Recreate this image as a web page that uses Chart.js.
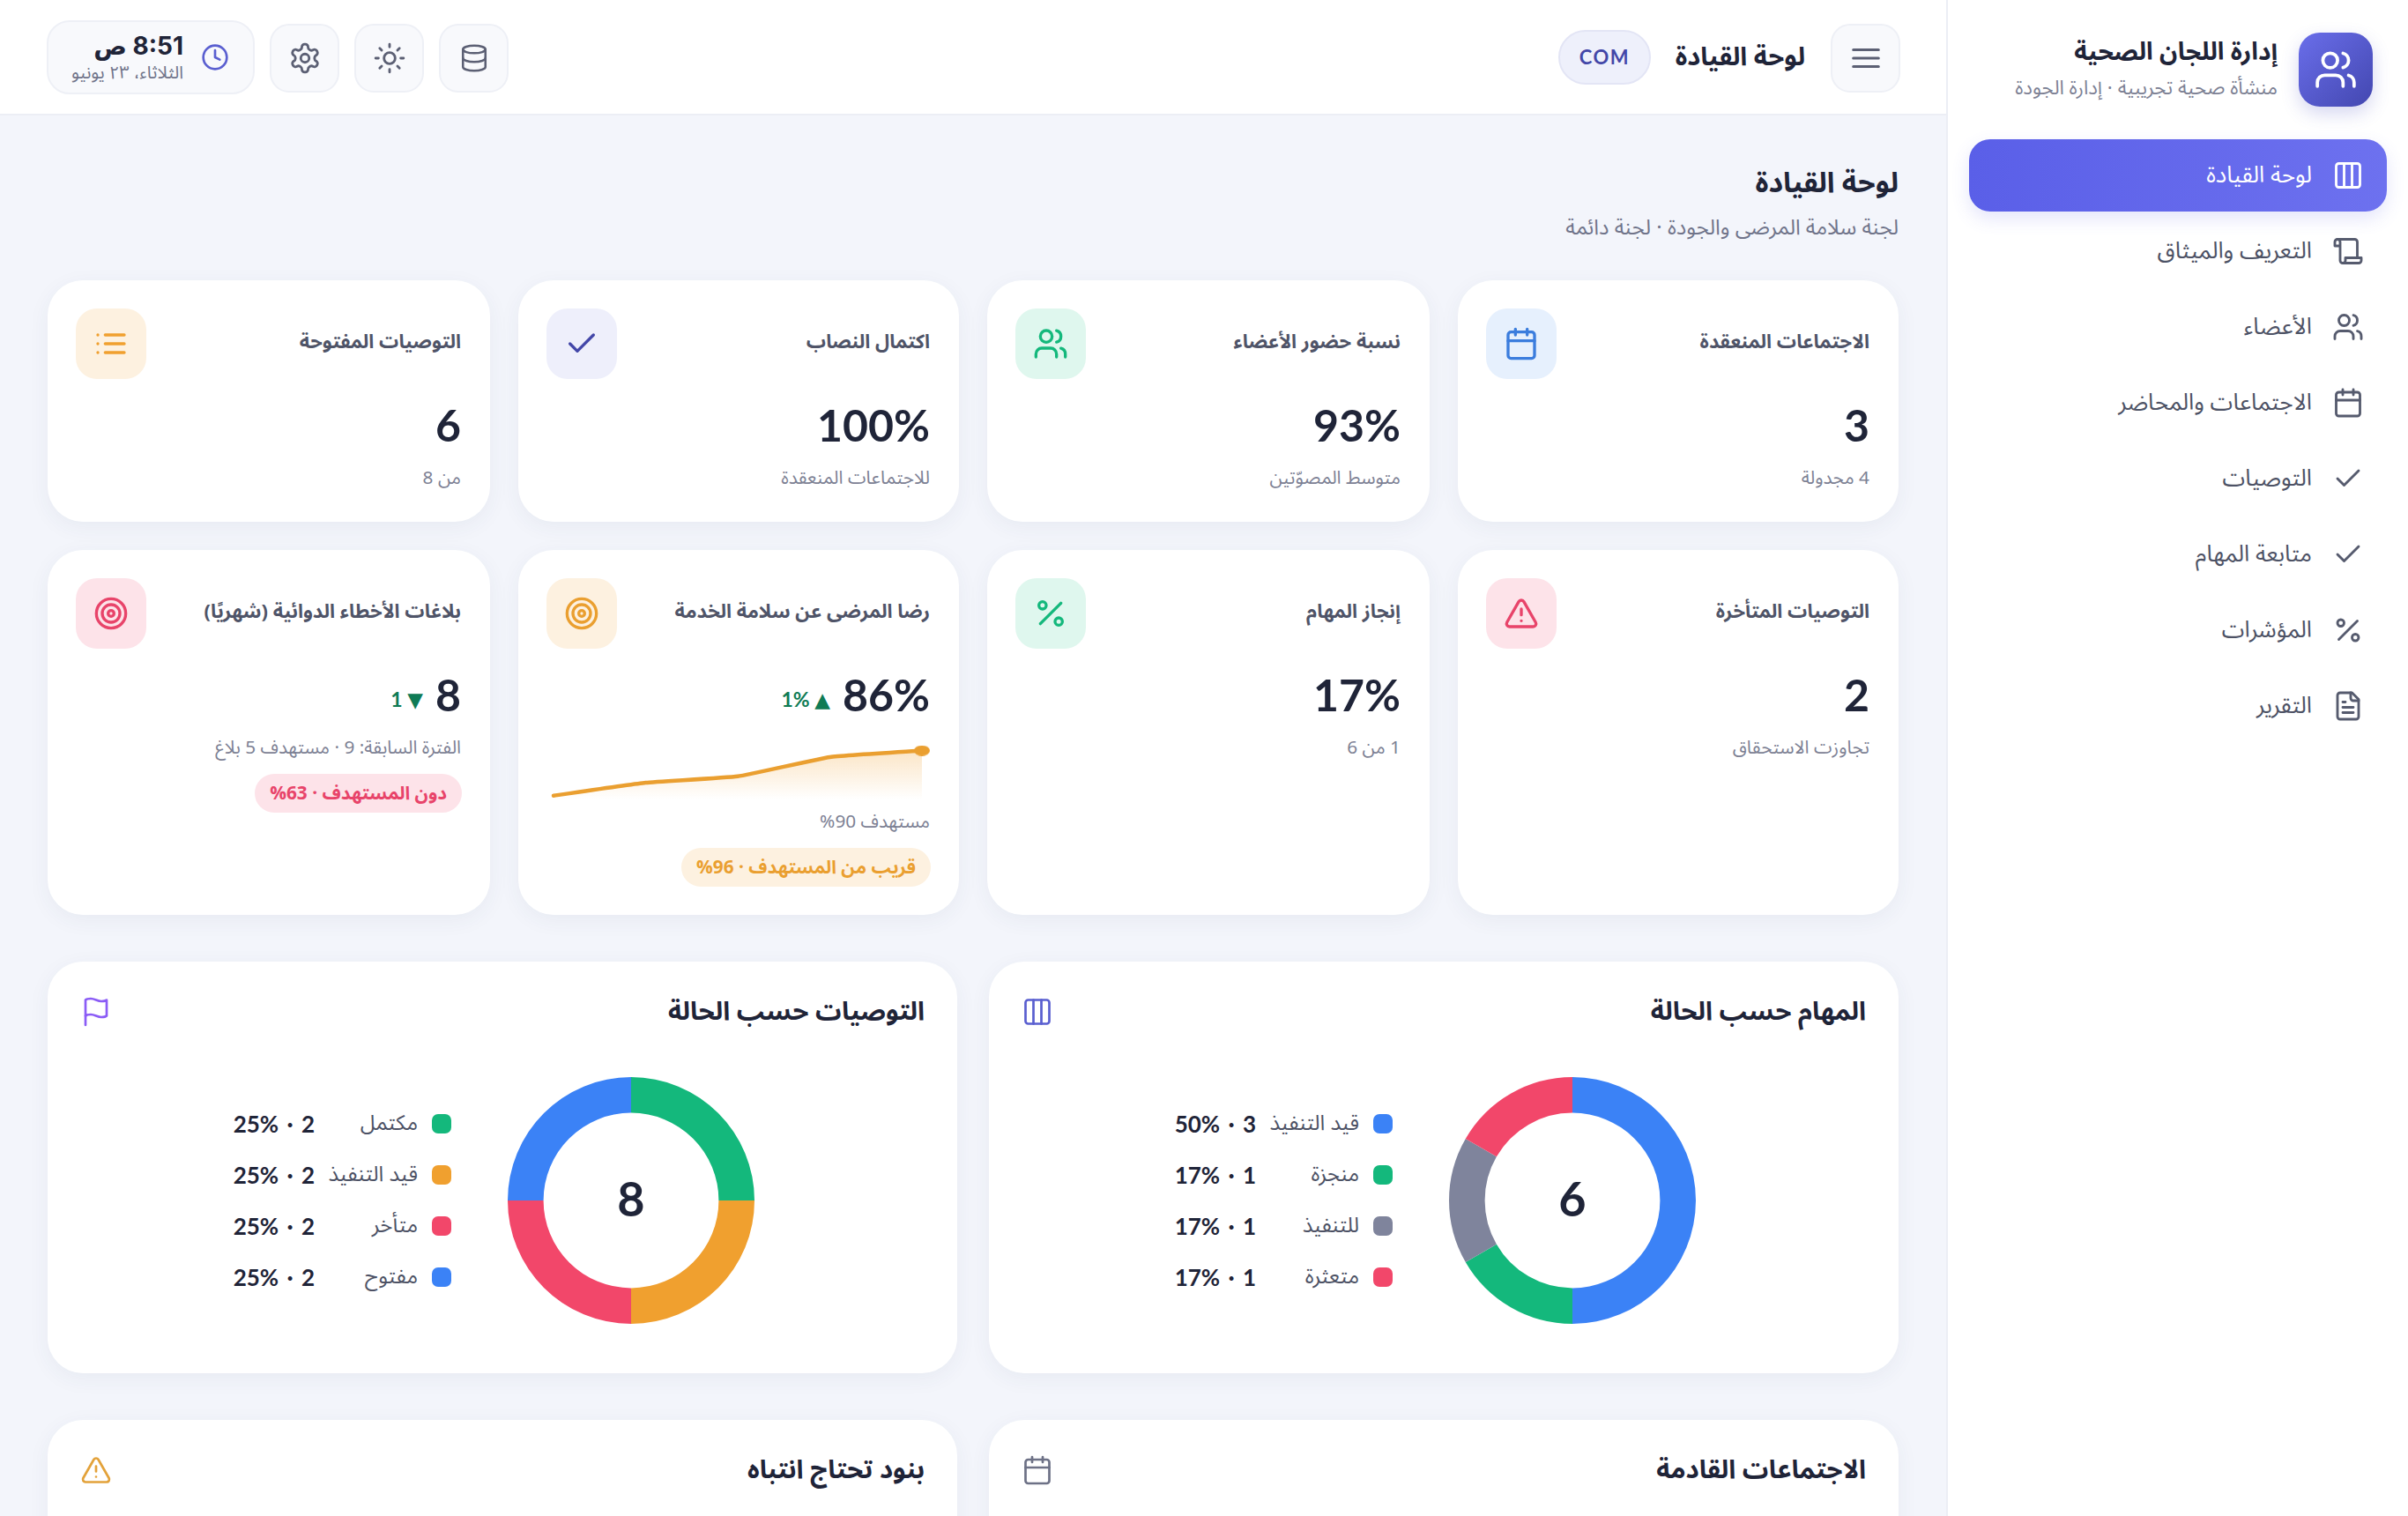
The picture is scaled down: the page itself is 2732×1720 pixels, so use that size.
<!DOCTYPE html>
<html lang="ar" dir="rtl">
<head>
<meta charset="utf-8">
<title>لوحة القيادة</title>
<script src="https://cdn.jsdelivr.net/npm/chart.js@4"></script>
<style>
  * { box-sizing: border-box; margin: 0; padding: 0; }
  html, body { width: 2732px; height: 1720px; overflow: hidden; background: #f3f5fb; }
  body { position: relative; font-family: 'Noto Sans Arabic', 'IBM Plex Sans Arabic', 'Noto Sans', 'DejaVu Sans', sans-serif; color: #1f2438; }
  .abs { position: absolute; }
  .txt { position: absolute; white-space: nowrap; text-align: right; }
  svg { display: block; fill: none; stroke-linecap: round; stroke-linejoin: round; }

  #sidebar { position: absolute; left: 2208px; top: 0; width: 524px; height: 1720px; background: #fff; border-left: 2px solid #eceef5; }
  #topbar { position: absolute; left: 0; top: 0; width: 2208px; height: 131px; background: #fff; border-bottom: 2px solid #eceef5; }
  .brand { position: absolute; left: 2608px; top: 37px; width: 84px; height: 84px; border-radius: 24px; background: linear-gradient(135deg, #6a6eea, #4347b0); box-shadow: 0 8px 20px rgba(70,75,190,.22); display: flex; align-items: center; justify-content: center; }
  .nav-active { position: absolute; left: 2234px; top: 158px; width: 474px; height: 82px; border-radius: 24px; background: linear-gradient(90deg, #5a5fe8, #6d71ef); box-shadow: 0 8px 20px rgba(90,95,232,.16); }
  .nav-icon { position: absolute; left: 2646px; width: 36px; height: 36px; }
  .nav-text { right: 109px; font-size: 26px; line-height: 40px; color: #4d5265; }
  .btn { position: absolute; top: 27px; width: 79px; height: 78px; border-radius: 22px; background: #f8f9fc; border: 2px solid #eef0f6; display: flex; align-items: center; justify-content: center; }

  .card { position: absolute; background: #fff; border-radius: 40px; box-shadow: 0 6px 24px rgba(50,60,110,.06); }
  .ico { position: absolute; left: 32px; top: 32px; width: 80px; height: 80px; border-radius: 24px; display: flex; align-items: center; justify-content: center; }
  .k-title { right: 33px; top: 50px; font-size: 22px; line-height: 40px; font-weight: 700; color: #4f5468; }
  .k-value { right: 33px; top: 132px; display: flex; align-items: center; gap: 14px; height: 64px; }
  .k-num { font-size: 50px; line-height: 64px; font-weight: 700; font-family: Lato, 'DejaVu Sans', sans-serif; color: #1f2438; }
  .k-delta { font-size: 23px; font-weight: 700; font-family: Lato, 'DejaVu Sans', sans-serif; color: #0f7b55; margin-top: 10px; }
  .k-note { right: 33px; top: 206px; font-size: 20.8px; line-height: 36px; color: #7d8194; }
  .k-pill { position: absolute; right: 32px; height: 44px; line-height: 44px; border-radius: 22px; padding: 0 17px; font-size: 20.8px; font-weight: 700; white-space: nowrap; }

  .c-title { right: 37px; top: 33px; font-size: 29.3px; line-height: 48px; font-weight: 700; color: #1f2438; }
  .c-icon { position: absolute; left: 37px; top: 39px; width: 36px; height: 36px; }
  .center { position: absolute; width: 200px; height: 80px; line-height: 80px; text-align: center; font-size: 54px; font-weight: 700; font-family: Lato, 'DejaVu Sans', sans-serif; color: #1f2438; }
  .lg-dot { position: absolute; width: 22px; height: 22px; border-radius: 7px; }
  .lg-label { font-size: 24px; line-height: 40px; color: #4d5265; }
  .lg-value { font-size: 26px; word-spacing: 3px; line-height: 40px; font-weight: 700; font-family: Lato, 'DejaVu Sans', sans-serif; color: #1f2438; }
  canvas { position: absolute; display: block; }
</style>
</head>
<body>
<div id="sidebar"></div>
<div id="topbar"></div>
<div id="root"></div>
<script>
// 导航与页头文字
const navLabels = ['لوحة القيادة', 'التعريف والميثاق', 'الأعضاء', 'الاجتماعات والمحاضر', 'التوصيات', 'متابعة المهام', 'المؤشرات', 'التقرير'];
const navIcons = ['columns', 'scroll', 'users', 'calendar', 'check', 'check', 'percent', 'file'];

// 指标卡
const kpiTitles = ['الاجتماعات المنعقدة', 'نسبة حضور الأعضاء', 'اكتمال النصاب', 'التوصيات المفتوحة', 'التوصيات المتأخرة', 'إنجاز المهام', 'رضا المرضى عن سلامة الخدمة', 'بلاغات الأخطاء الدوائية (شهريًا)'];
const kpiValues = ['3', '93%', '100%', '6', '2', '17%', '86%', '8'];
const kpiNotes = ['4 مجدولة', 'متوسط المصوّتين', 'للاجتماعات المنعقدة', 'من 8', 'تجاوزت الاستحقاق', '1 من 6', 'مستهدف 90%', 'الفترة السابقة: 9 · مستهدف 5 بلاغ'];
const kpiIcons = ['calendar', 'users', 'check', 'list', 'alert', 'percent', 'target', 'target'];
const kpiDeltas = ['', '', '', '', '', '', '▲ 1%', '▼ 1'];
const kpiPills = ['', '', '', '', '', '', 'قريب من المستهدف · 96%', 'دون المستهدف · 63%'];

// 满意度迷你趋势
const sparkLabels = ['1', '2', '3', '4', '5'];
const sparkValues = [79, 81, 82, 85, 86];

// 任务状态
const taskLabels = ['قيد التنفيذ', 'منجزة', 'للتنفيذ', 'متعثرة'];
const taskValues = [3, 1, 1, 1];
const taskPercents = ['50%', '17%', '17%', '17%'];

// 建议状态
const recLabels = ['مكتمل', 'قيد التنفيذ', 'متأخر', 'مفتوح'];
const recValues = [2, 2, 2, 2];
const recPercents = ['25%', '25%', '25%', '25%'];

const BLUE = '#3b82f6', GREEN = '#14b87c', GRAY = '#7f849c', RED = '#f2476a', ORANGE = '#f0a02f', INDIGO = '#5a5fd0';
const taskColors = [BLUE, GREEN, GRAY, RED];
const recColors = [GREEN, ORANGE, RED, BLUE];

const ICONS = {
  users: '<path d="M16 21v-2a4 4 0 0 0-4-4H6a4 4 0 0 0-4 4v2"/><circle cx="9" cy="7" r="4"/><path d="M22 21v-2a4 4 0 0 0-3-3.87"/><path d="M16 3.13a4 4 0 0 1 0 7.75"/>',
  columns: '<rect x="3" y="3" width="18" height="18" rx="2"/><path d="M9 3v18M15 3v18"/>',
  scroll: '<path d="M8 21h12a2 2 0 0 0 2-2v-2H10v2a2 2 0 1 1-4 0V5a2 2 0 1 0-4 0v3h4"/><path d="M19 17V5a2 2 0 0 0-2-2H4"/>',
  calendar: '<rect x="3" y="4" width="18" height="18" rx="2"/><path d="M16 2v4M8 2v4M3 10h18"/>',
  check: '<path d="M20 6 9 17l-5-5"/>',
  percent: '<path d="M19 5 5 19"/><circle cx="6.5" cy="6.5" r="2.5"/><circle cx="17.5" cy="17.5" r="2.5"/>',
  file: '<path d="M15 2H6a2 2 0 0 0-2 2v16a2 2 0 0 0 2 2h12a2 2 0 0 0 2-2V7Z"/><path d="M14 2v4a2 2 0 0 0 2 2h4M16 13H8M16 17H8M10 9H8"/>',
  list: '<path d="M8 6h13M8 12h13M8 18h13M3 6h.01M3 12h.01M3 18h.01"/>',
  alert: '<path d="m21.73 18-8-14a2 2 0 0 0-3.48 0l-8 14A2 2 0 0 0 4 21h16a2 2 0 0 0 1.73-3"/><path d="M12 9v4M12 17h.01"/>',
  target: '<circle cx="12" cy="12" r="10"/><circle cx="12" cy="12" r="6"/><circle cx="12" cy="12" r="2"/>',
  clock: '<circle cx="12" cy="12" r="10"/><path d="M12 6v6l4 2"/>',
  gear: '<path d="M12.22 2h-.44a2 2 0 0 0-2 2v.18a2 2 0 0 1-1 1.73l-.43.25a2 2 0 0 1-2 0l-.15-.08a2 2 0 0 0-2.73.73l-.22.38a2 2 0 0 0 .73 2.73l.15.1a2 2 0 0 1 1 1.72v.51a2 2 0 0 1-1 1.74l-.15.09a2 2 0 0 0-.73 2.73l.22.38a2 2 0 0 0 2.73.73l.15-.08a2 2 0 0 1 2 0l.43.25a2 2 0 0 1 1 1.73V20a2 2 0 0 0 2 2h.44a2 2 0 0 0 2-2v-.18a2 2 0 0 1 1-1.73l.43-.25a2 2 0 0 1 2 0l.15.08a2 2 0 0 0 2.73-.73l.22-.39a2 2 0 0 0-.73-2.73l-.15-.08a2 2 0 0 1-1-1.74v-.5a2 2 0 0 1 1-1.74l.15-.09a2 2 0 0 0 .73-2.73l-.22-.38a2 2 0 0 0-2.73-.73l-.15.08a2 2 0 0 1-2 0l-.43-.25a2 2 0 0 1-1-1.73V4a2 2 0 0 0-2-2z"/><circle cx="12" cy="12" r="3"/>',
  sun: '<circle cx="12" cy="12" r="4"/><path d="M12 2v2M12 20v2M4.93 4.93l1.41 1.41M17.66 17.66l1.41 1.41M2 12h2M20 12h2M6.34 17.66l-1.41 1.41M19.07 4.93l-1.41 1.41"/>',
  database: '<ellipse cx="12" cy="5" rx="9" ry="3"/><path d="M3 5v14a9 3 0 0 0 18 0V5"/><path d="M3 12a9 3 0 0 0 18 0"/>',
  menu: '<path d="M3 6h18M3 12h18M3 18h18"/>',
  flag: '<path d="M4 15s1-1 4-1 5 2 8 2 4-1 4-1V3s-1 1-4 1-5-2-8-2-4 1-4 1z"/><path d="M4 22v-7"/>'
};

const kpiColors = [
  ['#3b7ddd', '#e6f0fd'], ['#14b87c', '#dff7ee'], ['#4347a8', '#eeeffb'], ['#f0a02f', '#fdf1e0'],
  ['#e8446a', '#fde3e9'], ['#14b87c', '#dff7ee'], ['#ea9f30', '#fdf1e0'], ['#e8446a', '#fde3e9']
];

const root = document.getElementById('root');

function svgIcon(name, size, color, sw) {
  return '<svg width="' + size + '" height="' + size + '" viewBox="0 0 24 24" stroke="' + color + '" stroke-width="' + sw + '">' + ICONS[name] + '</svg>';
}

function add(html) {
  root.insertAdjacentHTML('beforeend', html);
  return root.lastElementChild;
}

// 侧边栏
function buildSidebar() {
  add('<div class="brand">' + svgIcon('users', 50, '#fff', 1.8) + '</div>');
  add('<div class="txt" style="right:148px;top:38px;font-size:28px;line-height:44px;font-weight:700">إدارة اللجان الصحية</div>');
  add('<div class="txt" style="right:148px;top:82px;font-size:22.3px;line-height:36px;color:#7d8194">منشأة صحية تجريبية · إدارة الجودة</div>');
  add('<div class="nav-active"></div>');
  navLabels.forEach((label, i) => {
    const cy = 199 + i * 86;
    const active = i === 0;
    add('<div class="nav-icon" style="top:' + (cy - 18) + 'px">' + svgIcon(navIcons[i], 36, active ? '#fff' : '#565b6e', 1.9) + '</div>');
    add('<div class="txt nav-text" style="top:' + (cy - 20) + 'px;color:' + (active ? '#fff' : '#4d5265') + '">' + label + '</div>');
  });
}

// 顶栏
function buildTopbar() {
  add('<div class="btn" style="left:2077px">' + svgIcon('menu', 38, '#5c6074', 2) + '</div>');
  add('<div class="txt" style="right:684px;top:42px;font-size:29px;line-height:46px;font-weight:700">لوحة القيادة</div>');
  add('<div class="abs" style="left:1768px;top:34px;width:105px;height:62px;border-radius:31px;background:#eef0fb;border:2px solid #e3e5f5;text-align:center;line-height:58px;font-size:22px;font-weight:700;color:#4347a8;font-family:Lato,sans-serif;letter-spacing:1.5px">COM</div>');
  add('<div class="btn" style="left:498px">' + svgIcon('database', 34, '#5c6074', 1.8) + '</div>');
  add('<div class="btn" style="left:402px">' + svgIcon('sun', 38, '#5c6074', 1.8) + '</div>');
  add('<div class="btn" style="left:306px">' + svgIcon('gear', 38, '#5c6074', 1.8) + '</div>');
  add('<div class="abs" style="left:53px;top:23px;width:236px;height:84px;border-radius:26px;background:#f8f9fc;border:2px solid #eef0f6"></div>');
  add('<div class="abs" style="left:228px;top:49px">' + svgIcon('clock', 32, INDIGO, 2) + '</div>');
  add('<div class="txt" style="right:2524px;top:32px;font-size:28px;line-height:40px;font-weight:700;font-family:Inter,\'DejaVu Sans\',sans-serif">8:51 ص</div>');
  add('<div class="txt" style="right:2524px;top:66px;font-size:20px;line-height:34px;color:#70748a">الثلاثاء، ٢٣ يونيو</div>');
}

// 指标卡片
function buildKpis() {
  const lefts = [1654, 1120, 588, 54];
  const widths = [500, 502, 500, 502];
  kpiTitles.forEach((title, i) => {
    const row = i < 4 ? 0 : 1;
    const top = row === 0 ? 318 : 624;
    const height = row === 0 ? 274 : 414;
    const pair = kpiColors[i];
    let inner = '<div class="ico" style="background:' + pair[1] + '">' + svgIcon(kpiIcons[i], 40, pair[0], 2) + '</div>';
    inner += '<div class="txt k-title">' + title + '</div>';
    inner += '<div class="txt k-value"><span class="k-num">' + kpiValues[i] + '</span>';
    if (kpiDeltas[i]) inner += '<span class="k-delta">' + kpiDeltas[i] + '</span>';
    inner += '</div>';
    // 迷你趋势卡的说明文字在图下方
    const noteTop = i === 6 ? 290 : 206;
    inner += '<div class="txt k-note" style="top:' + noteTop + 'px">' + kpiNotes[i] + '</div>';
    if (kpiPills[i]) {
      const pillTop = i === 6 ? 338 : 254;
      inner += '<div class="k-pill" style="top:' + pillTop + 'px;background:' + pair[1] + ';color:' + pair[0] + '">' + kpiPills[i] + '</div>';
    }
    add('<div class="card" style="left:' + lefts[i % 4] + 'px;top:' + top + 'px;width:' + widths[i % 4] + 'px;height:' + height + 'px">' + inner + '</div>');
  });
}

// 下方卡片外框
function chartCard(left, top, height, title, iconName, iconColor) {
  add('<div class="card" style="left:' + left + 'px;top:' + top + 'px;width:1032px;height:' + height + 'px">' +
    '<div class="txt c-title">' + title + '</div>' +
    '<div class="c-icon">' + svgIcon(iconName, 36, iconColor, 1.8) + '</div></div>');
}

// 环形图及其图例
function buildDonut(canvasLeft, labels, values, percents, colors) {
  const canvas = document.createElement('canvas');
  canvas.width = 280;
  canvas.height = 280;
  canvas.style.left = canvasLeft + 'px';
  canvas.style.top = '1222px';
  root.appendChild(canvas);
  new Chart(canvas, {
    type: 'doughnut',
    data: {
      labels: labels,
      datasets: [{ data: values, backgroundColor: colors, borderWidth: 0 }]
    },
    options: {
      responsive: false,
      animation: false,
      cutout: '71%',
      layout: { padding: 0 },
      plugins: { legend: { display: false }, tooltip: { enabled: false } }
    }
  });
  const total = values.reduce((a, b) => a + b, 0);
  add('<div class="center" style="left:' + (canvasLeft + 40) + 'px;top:1320px">' + total + '</div>');

  labels.forEach((label, i) => {
    const cy = 1275 + i * 58;
    const dotLeft = canvasLeft - 86;
    add('<div class="lg-dot" style="left:' + dotLeft + 'px;top:' + (cy - 11) + 'px;background:' + colors[i] + '"></div>');
    add('<div class="txt lg-label" style="right:' + (2732 - (dotLeft - 16)) + 'px;top:' + (cy - 20) + 'px">' + label + '</div>');
    add('<div class="txt lg-value" style="right:' + (2732 - (dotLeft - 133)) + 'px;top:' + (cy - 20) + 'px">' + values[i] + ' · ' + percents[i] + '</div>');
  });
}

// 末端圆点（略扁）
function sparkDot() {
  const dot = document.createElement('canvas');
  dot.width = 18;
  dot.height = 12;
  const c = dot.getContext('2d');
  c.fillStyle = '#ea9f30';
  c.beginPath();
  c.ellipse(9, 6, 9, 6, 0, 0, Math.PI * 2);
  c.fill();
  return dot;
}

// 满意度迷你折线
function buildSpark() {
  const canvas = document.createElement('canvas');
  canvas.width = 440;
  canvas.height = 85;
  canvas.style.left = '620px';
  canvas.style.top = '835px';
  root.appendChild(canvas);

  const last = sparkValues.length - 1;
  const dot = sparkDot();
  new Chart(canvas, {
    type: 'line',
    data: {
      labels: sparkLabels,
      datasets: [{
        data: sparkValues,
        borderColor: '#ea9f30',
        borderWidth: 4.5,
        borderCapStyle: 'round',
        tension: 0.12,
        clip: false,
        fill: 'start',
        backgroundColor: (ctx) => {
          const g = ctx.chart.ctx.createLinearGradient(0, 15, 0, 72);
          g.addColorStop(0, 'rgba(240,160,47,0.28)');
          g.addColorStop(1, 'rgba(240,160,47,0)');
          return g;
        },
        pointStyle: dot,
        pointRadius: (ctx) => (ctx.dataIndex === last ? 9 : 0)
      }]
    },
    options: {
      responsive: false,
      animation: false,
      layout: { autoPadding: false, padding: { left: 8, right: 14, top: 2, bottom: 10 } },
      scales: {
        x: { display: false },
        y: { display: false, min: 78, max: 88 }
      },
      plugins: { legend: { display: false }, tooltip: { enabled: false } }
    }
  });
}

buildTopbar();
buildSidebar();

add('<div class="txt" style="right:578px;top:181px;font-size:32px;line-height:54px;font-weight:700">لوحة القيادة</div>');
add('<div class="txt" style="right:578px;top:239px;font-size:24px;line-height:40px;color:#70748a">لجنة سلامة المرضى والجودة · لجنة دائمة</div>');

buildKpis();
buildSpark();

chartCard(1122, 1091, 467, 'المهام حسب الحالة', 'columns', INDIGO);
chartCard(54, 1091, 467, 'التوصيات حسب الحالة', 'flag', '#8b5cf6');
chartCard(1122, 1611, 300, 'الاجتماعات القادمة', 'calendar', '#6d7186');
chartCard(54, 1611, 300, 'بنود تحتاج انتباه', 'alert', '#e3a23a');

buildDonut(1644, taskLabels, taskValues, taskPercents, taskColors);
buildDonut(576, recLabels, recValues, recPercents, recColors);
</script>
</body>
</html>
